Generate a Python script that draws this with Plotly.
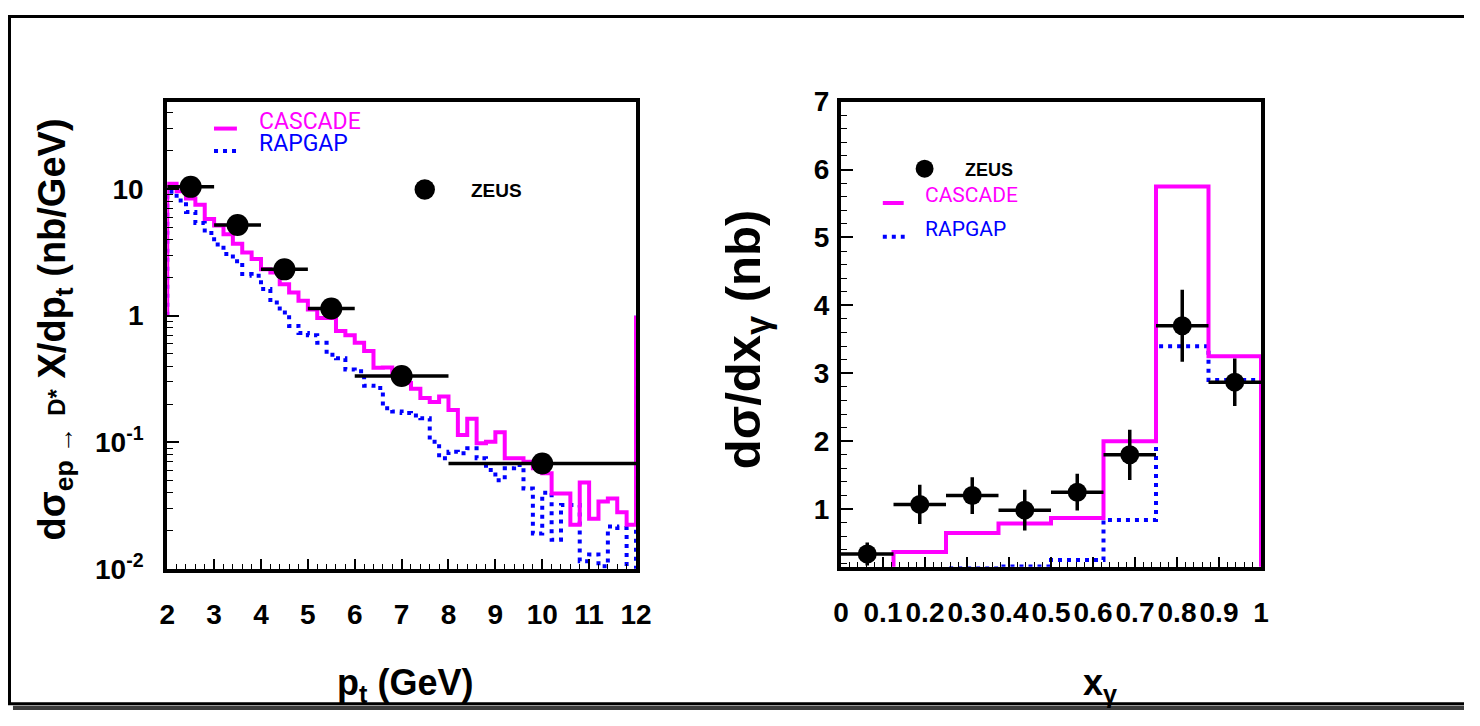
import plotly.graph_objects as go

# ---------------- data ----------------
pt_bin_edges = [2.0, 2.2, 2.4, 2.6, 2.8, 3.0, 3.2, 3.4, 3.6, 3.8, 4.0, 4.2, 4.4, 4.6, 4.8,
                5.0, 5.2, 5.4, 5.6, 5.8, 6.0, 6.2, 6.4, 6.6, 6.8, 7.0, 7.2, 7.4, 7.6, 7.8,
                8.0, 8.2, 8.4, 8.6, 8.8, 9.0, 9.2, 9.4, 9.6, 9.8, 10.0, 10.2, 10.4, 10.6,
                10.8, 11.0, 11.2, 11.4, 11.6, 11.8, 12.0]
cascade_pt = [11.0, 9.6, 8.4, 7.5, 5.8, 5.15, 4.4, 3.7, 3.16, 2.8,
              2.33, 2.19, 1.77, 1.52, 1.31, 1.12, 0.96, 0.96, 0.757, 0.70,
              0.61, 0.525, 0.387, 0.39, 0.342, 0.294, 0.265, 0.224, 0.208, 0.23,
              0.18, 0.114, 0.153, 0.098, 0.101, 0.12, 0.0746, 0.0746, 0.070, 0.0622,
              0.0568, 0.0394, 0.0394, 0.0223, 0.048, 0.0249, 0.034, 0.036, 0.028, 0.0223]
rapgap_pt = [9.5, 8.1, 6.6, 5.4, 4.5, 3.64, 3.07, 2.69, 2.13, 2.07,
             1.62, 1.27, 1.06, 0.83, 0.73, 0.70, 0.61, 0.49, 0.46, 0.375,
             0.364, 0.28, 0.268, 0.186, 0.175, 0.17, 0.163, 0.155, 0.101, 0.0746,
             0.0843, 0.0818, 0.0896, 0.0746, 0.0603, 0.0502, 0.0622, 0.066, 0.0431, 0.019,
             0.040, 0.017, 0.032, 0.032, 0.0115, 0.013, 0.0105, 0.0216, 0.021, 0.009]
pt_hist_baseline = 1.0

zeus_pt_x = [2.5, 3.5, 4.5, 5.5, 7.0, 10.0]
zeus_pt_xerr = [0.5, 0.5, 0.5, 0.5, 1.0, 2.0]
zeus_pt_y = [10.4, 5.2, 2.32, 1.14, 0.334, 0.068]
zeus_pt_yerr = [0.8, 0.4, 0.18, 0.09, 0.03, 0.008]

xg_bin_edges = [0.0, 0.125, 0.25, 0.375, 0.5, 0.625, 0.75, 0.875, 1.0]
cascade_xg = [0.0, 0.37, 0.65, 0.79, 0.87, 2.0, 5.75, 3.25]
rapgap_xg = [0.0, 0.12, 0.13, 0.155, 0.25, 0.84, 3.4, 2.9]
zeus_xg_x = [0.0625, 0.1875, 0.3125, 0.4375, 0.5625, 0.6875, 0.8125, 0.9375]
zeus_xg_xerr = [0.0625] * 8
zeus_xg_y = [0.34, 1.07, 1.2, 0.985, 1.25, 1.8, 3.7, 2.87]
zeus_xg_yerr = [0.17, 0.29, 0.27, 0.3, 0.27, 0.37, 0.53, 0.35]

pt_ticks = [2, 3, 4, 5, 6, 7, 8, 9, 10, 11, 12]
pt_logticks = [0.01, 0.1, 1, 10]
pt_logticktext = ["10<sup>-2</sup>", "10<sup>-1</sup>", "1", "10"]
xg_ticks = [0, 0.1, 0.2, 0.3, 0.4, 0.5, 0.6, 0.7, 0.8, 0.9, 1.0]
xg_ticktext = ["0", "0.1", "0.2", "0.3", "0.4", "0.5", "0.6", "0.7", "0.8", "0.9", "1"]
xg_yticks = [1, 2, 3, 4, 5, 6, 7]

# ---------------- layout helpers ----------------
W, H = 1480, 726
# the photographed page shows the figure slightly inset; positions below are
# given in photo pixels and mapped back to figure pixels
TX0, TXS = 3.0, 0.9885
TY0, TYS = 14.0, 0.961
def PX(p):
    return ((p - TX0) / TXS) / W
def PY(p):
    return 1 - ((p - TY0) / TYS) / H

MAG = "#ff00ff"
BLU = "#0000ff"
DOT = "4px,5px"
FT = "Liberation Sans, Arial, sans-serif"
FN = "Liberation Sans, Arial, sans-serif"
FL = "Roboto, Liberation Sans, sans-serif"


def step_xy(edges, vals, base):
    xs = [edges[0]] + list(edges[:-1]) + [edges[-1], edges[-1]]
    ys = [base] + list(vals) + [vals[-1], base]
    return xs, ys


fig = go.Figure()

x1, y1 = step_xy(pt_bin_edges, rapgap_pt, pt_hist_baseline)
fig.add_trace(go.Scatter(x=x1, y=y1, mode="lines", line=dict(color=BLU, width=4, dash=DOT, shape="hv"),
                         xaxis="x", yaxis="y", showlegend=False, hoverinfo="skip"))
x1, y1 = step_xy(pt_bin_edges, cascade_pt, pt_hist_baseline)
fig.add_trace(go.Scatter(x=x1, y=y1, mode="lines", line=dict(color=MAG, width=4, shape="hv"),
                         xaxis="x", yaxis="y", showlegend=False, hoverinfo="skip"))
fig.add_trace(go.Scatter(x=zeus_pt_x, y=zeus_pt_y, mode="markers",
                         marker=dict(color="black", size=22),
                         error_x=dict(type="data", array=zeus_pt_xerr, color="black", thickness=3.5, width=0),
                         error_y=dict(type="data", array=zeus_pt_yerr, color="black", thickness=3.5, width=0),
                         xaxis="x", yaxis="y", showlegend=False))

x2, y2 = step_xy(xg_bin_edges, rapgap_xg, 0.0)
fig.add_trace(go.Scatter(x=x2, y=y2, mode="lines", line=dict(color=BLU, width=4, dash=DOT, shape="hv"),
                         xaxis="x2", yaxis="y2", showlegend=False, hoverinfo="skip"))
x2, y2 = step_xy(xg_bin_edges, cascade_xg, 0.0)
fig.add_trace(go.Scatter(x=x2, y=y2, mode="lines", line=dict(color=MAG, width=4, shape="hv"),
                         xaxis="x2", yaxis="y2", showlegend=False, hoverinfo="skip"))
fig.add_trace(go.Scatter(x=zeus_xg_x, y=zeus_xg_y, mode="markers",
                         marker=dict(color="black", size=19),
                         error_x=dict(type="data", array=zeus_xg_xerr, color="black", thickness=3.5, width=0),
                         error_y=dict(type="data", array=zeus_xg_yerr, color="black", thickness=3.5, width=0),
                         xaxis="x2", yaxis="y2", showlegend=False))

tickfont = dict(family=FT, size=28, color="black", weight="bold")
common = dict(showline=True, linewidth=4, linecolor="black", mirror=True, showgrid=False,
              zeroline=False, ticks="inside", tickcolor="black", tickwidth=1.5, tickfont=tickfont)

fig.update_layout(
    width=W, height=H, margin=dict(l=0, r=0, t=0, b=0),
    paper_bgcolor="white", plot_bgcolor="white",
    xaxis=dict(domain=[PX(163), PX(634)], range=[2, 12], tickmode="array", tickvals=pt_ticks,
               ticklen=10, minor=dict(ticks="inside", dtick=0.2, tick0=2, ticklen=5, tickcolor="black", tickwidth=1.2),
               anchor="y", ticklabelstandoff=18, tickangle=0, **common),
    yaxis=dict(domain=[PY(570), PY(101)], type="log", range=[-2, 1.69], tickmode="array",
               tickvals=pt_logticks, ticktext=pt_logticktext, ticklen=12,
               minor=dict(ticks="inside", tickvals=[2e-2, 3e-2, 4e-2, 5e-2, 6e-2, 7e-2, 8e-2, 9e-2,
                                                    0.2, 0.3, 0.4, 0.5, 0.6, 0.7, 0.8, 0.9,
                                                    2, 3, 4, 5, 6, 7, 8, 9, 20, 30, 40],
                          ticklen=6, tickcolor="black", tickwidth=1.2),
               anchor="x", ticklabelstandoff=14, **common),
    xaxis2=dict(domain=[PX(840), PX(1262)], range=[0, 1], tickmode="array", tickvals=xg_ticks,
                ticktext=xg_ticktext, ticklen=10,
                minor=dict(ticks="inside", dtick=0.02, tick0=0, ticklen=5, tickcolor="black", tickwidth=1.2),
                anchor="y2", ticklabelstandoff=18, tickangle=0, **common),
    yaxis2=dict(domain=[PY(568), PY(101)], range=[0.15, 7.0], tickmode="array", tickvals=xg_yticks,
                ticklen=12, minor=dict(ticks="inside", dtick=0.2, tick0=0, ticklen=6, tickcolor="black", tickwidth=1.2),
                anchor="x2", ticklabelstandoff=2, **common),
)

shapes = []
# outer frame (right edge lies off the page) and its shadow
top_y = 1 - 1.5 / H
bot_y = 1 - 719.5 / H
shapes.append(dict(type="rect", xref="paper", yref="paper", x0=PX(8), x1=1.0, y0=0.0, y1=1 - 721.5 / H,
                   fillcolor="#3c3c3c", line=dict(width=0), layer="below"))
frame_path = "M %.5f,%.5f L %.5f,%.5f L %.5f,%.5f L %.5f,%.5f" % (
    1.0, top_y, PX(4.5), top_y, PX(4.5), bot_y, 1.0, bot_y)
shapes.append(dict(type="path", xref="paper", yref="paper", path=frame_path,
                   line=dict(color="black", width=3), layer="below"))
# left legend
shapes.append(dict(type="line", xref="paper", yref="paper", x0=PX(210), x1=PX(233), y0=PY(128), y1=PY(128),
                   line=dict(color=MAG, width=4)))
shapes.append(dict(type="line", xref="paper", yref="paper", x0=PX(210), x1=PX(234), y0=PY(150.5), y1=PY(150.5),
                   line=dict(color=BLU, width=4, dash=DOT)))
shapes.append(dict(type="circle", xref="paper", yref="paper", x0=PX(411.5), x1=PX(432), y0=PY(199.5), y1=PY(179),
                   fillcolor="black", line=dict(color="black", width=0)))
# right legend
shapes.append(dict(type="circle", xref="paper", yref="paper", x0=PX(915), x1=PX(933), y0=PY(177.3), y1=PY(159.3),
                   fillcolor="black", line=dict(color="black", width=0)))
shapes.append(dict(type="line", xref="paper", yref="paper", x0=PX(882), x1=PX(903), y0=PY(202.7), y1=PY(202.7),
                   line=dict(color=MAG, width=4)))
shapes.append(dict(type="line", xref="paper", yref="paper", x0=PX(882), x1=PX(904), y0=PY(236.5), y1=PY(236.5),
                   line=dict(color=BLU, width=4, dash=DOT)))
fig.update_layout(shapes=shapes)

ann = []
def text(px, py, s, size, color="black", family=FN, xanchor="left", angle=0):
    ann.append(dict(xref="paper", yref="paper", x=PX(px), y=PY(py), text=s, showarrow=False,
                    xanchor=xanchor, yanchor="middle", textangle=angle,
                    font=dict(family=family, size=size, color=color)))

text(253, 121, "CASCADE", 23, MAG, FL)
text(253, 143, "RAPGAP", 23, BLU, FL)
text(466, 190, "<b>ZEUS</b>", 19, "black", FN)
text(963, 170, "<b>ZEUS</b>", 18, "black", FN)
text(922, 195, "CASCADE", 21, MAG, FL)
text(922, 229, "RAPGAP", 21, BLU, FL)

text(402, 687, "<b>p<sub>t</sub> (GeV)</b>", 36, "black", FT, "center")
text(1100, 687, "<b>x<sub>γ</sub></b>", 36, "black", FT, "center")
text(50, 330, "<b>dσ<sub>ep →</sub> <span style='font-size:24px'>D*</span> X/dp<sub>t</sub> (nb/GeV)</b>", 38,
     "black", FT, "center", -90)
text(745, 340, "<b>dσ/dx<sub>γ</sub> (nb)</b>", 49, "black", FT, "center", -90)
fig.update_layout(annotations=ann)

fig.write_html("out.html")
